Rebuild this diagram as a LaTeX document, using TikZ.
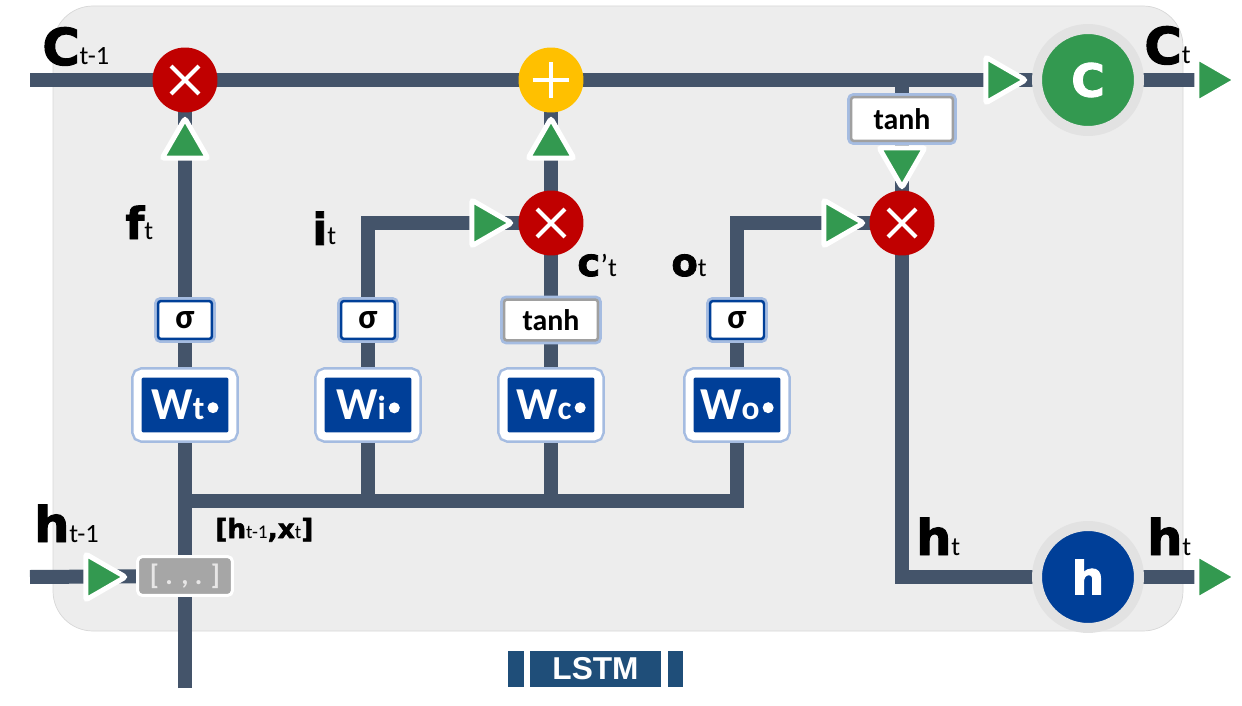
\documentclass[tikz,border=0pt]{standalone}
\usepackage{fontspec}
\setmainfont{Carlito}
\newfontfamily\heavyfont{DejaVu Sans}[BoldFeatures={FakeBold=2}]
\newfontfamily\arialfont{Liberation Sans}
\usetikzlibrary{shapes.geometric,backgrounds}

\definecolor{wiregray}{RGB}{68,84,106}
\definecolor{mulred}{RGB}{192,0,0}
\definecolor{addyellow}{RGB}{255,192,0}
\definecolor{cellgreen}{RGB}{51,153,80}
\definecolor{hidblue}{RGB}{0,63,152}
\definecolor{panelgray}{RGB}{237,237,237}
\definecolor{panelline}{RGB}{215,215,215}
\definecolor{halogray}{RGB}{226,226,226}
\definecolor{glowblue}{RGB}{165,188,225}
\definecolor{tanhgray}{RGB}{160,160,160}
\definecolor{catgray}{RGB}{166,166,166}
\definecolor{cattext}{RGB}{231,230,230}
\definecolor{lstmblue}{RGB}{31,78,121}

\newcommand{\biglbl}[3]{{\heavyfont\bfseries\fontsize{#1}{#1}\selectfont #2}{\fontsize{15}{15}\selectfont #3}}

\tikzset{
  wire/.style={draw=wiregray, line width=0.28cm},
  panel/.style={fill=panelgray, draw=panelline, line width=0.4pt, rounded corners=0.8cm},
  mulgate/.style={circle, fill=mulred, minimum size=1.3cm, inner sep=0,
    path picture={\draw[white, line width=0.08cm]
      ([shift={(-0.28cm,-0.28cm)}]path picture bounding box.center) -- ([shift={(0.28cm,0.28cm)}]path picture bounding box.center)
      ([shift={(-0.28cm,0.28cm)}]path picture bounding box.center) -- ([shift={(0.28cm,-0.28cm)}]path picture bounding box.center);}},
  addgate/.style={circle, fill=addyellow, minimum size=1.3cm, inner sep=0,
    path picture={\draw[white, line width=0.08cm]
      ([xshift=-0.37cm]path picture bounding box.center) -- ([xshift=0.37cm]path picture bounding box.center)
      ([yshift=-0.37cm]path picture bounding box.center) -- ([yshift=0.37cm]path picture bounding box.center);}},
  flowtri/.style={regular polygon, regular polygon sides=3, fill=cellgreen, draw=white, line width=0.1cm,
    rounded corners=0.05cm, minimum size=1.06cm, inner sep=0},
  statecirc/.style={circle, draw=halogray, line width=0.2cm, minimum size=2.04cm, inner sep=0, text=white,
    font=\heavyfont\bfseries\fontsize{26}{26}\selectfont},
  sigbox/.style={fill=white, draw=hidblue, line width=0.05cm, rounded corners=0.06cm, inner sep=0,
    minimum width=1.08cm, minimum height=0.76cm, font=\bfseries\fontsize{20}{20}\selectfont,
    preaction={draw=glowblue, line width=0.16cm}},
  tanhbox/.style={fill=white, draw=tanhgray, line width=0.05cm, rounded corners=0.06cm, inner sep=0,
    minimum width=1.88cm, minimum height=0.82cm, font=\bfseries\fontsize{17}{17}\selectfont,
    preaction={draw=glowblue, line width=0.16cm}},
  wbox/.style={fill=hidblue, draw=white, line width=0.16cm, rounded corners=0.1cm, inner sep=0,
    minimum width=1.9cm, minimum height=1.26cm, text=white, font=\bfseries\fontsize{26}{26}\selectfont,
    preaction={draw=glowblue, line width=0.26cm}},
  catbox/.style={fill=catgray, draw=white, line width=0.06cm, rounded corners=0.1cm, inner sep=0,
    minimum width=1.9cm, minimum height=0.78cm, text=cattext, font=\bfseries\fontsize{16}{16}\selectfont},
  lbl/.style={anchor=base west, inner sep=0}
}

\newcommand{\wlbl}[1]{W{\fontsize{19}{19}\selectfont #1}\hspace{0.06cm}\raisebox{0.13cm}{\tikz\fill[white] (0,0) circle (0.11cm);}}

\begin{document}
\begin{tikzpicture}[x=0.02cm, y=-0.02cm]
\useasboundingbox (0,0) rectangle (1242,706);

\node[mulgate] (fmul) at (185,80) {};
\node[addgate] (cadd) at (551,80) {};
\node[flowtri, shape border rotate=-90] (arrc) at (999,80) {};
\node[statecirc, fill=cellgreen] (cnode) at (1088,80) {C};
\node[flowtri, shape border rotate=-90] (arrcout) at (1210,80) {};

\node[tanhbox, minimum width=2.04cm, minimum height=0.88cm] (otanh) at (902,119) {tanh};
\node[flowtri, shape border rotate=180] (arrotanh) at (902,161) {};
\node[mulgate] (omul) at (902,223) {};
\node[flowtri, shape border rotate=-90] (arro) at (837,223) {};

\node[flowtri] (arrf) at (185,145) {};
\node[sigbox] (fsig) at (185,320) {σ};
\node[wbox] (fw) at (185,405) {\wlbl{t}};

\node[flowtri, shape border rotate=-90] (arri) at (485,223) {};
\node[mulgate] (imul) at (551,223) {};
\node[flowtri] (arrcadd) at (551,145) {};
\node[sigbox] (isig) at (368,320) {σ};
\node[wbox] (iw) at (368,405) {\wlbl{i}};

\node[tanhbox] (ctanh) at (551,320) {tanh};
\node[wbox] (cw) at (551,405) {\wlbl{c}};

\node[sigbox] (osig) at (737,320) {σ};
\node[wbox] (ow) at (737,405) {\wlbl{o}};

\node[statecirc, fill=hidblue] (hnode) at (1088,577) {h};
\node[flowtri, shape border rotate=-90] (arrhout) at (1210,577) {};

\node[flowtri, shape border rotate=-90] (arrhin) at (99,577) {};
\node[catbox] (cat) at (185,576) {[ . , . ]};

\coordinate (cin) at (30,80);
\coordinate (hin) at (30,577);
\coordinate (xin) at (185,688);
\coordinate (bus) at (185,501);

\begin{scope}[on background layer]
\draw[panel] (53,6) rectangle (1183,631);
\draw[wire] (cin) -- (cnode.center) -- (arrcout.center);
\draw[wire] (xin) -- (fmul.center);
\draw[wire] (hin) -- (cat.center);
\draw[wire] (bus) -| (ow.center) -- (osig.center) |- (omul.center);
\draw[wire] (iw |- bus) -- (isig.center) |- (imul.center);
\draw[wire] (cw |- bus) -- (cadd.center);
\draw[wire] (otanh |- cin) -- (omul.center) |- (hnode.center) -- (arrhout.center);
\end{scope}

\node[lbl] (lblcin) at (42,65) {\biglbl{29}{C}{t-1}};
\node[lbl] (lblcout) at (1144,64) {\biglbl{29}{C}{t}};
\node[lbl] (lblf) at (125,239) {\biglbl{25}{f}{t}};
\node[lbl] (lbli) at (312,245) {\biglbl{25}{i}{t}};
\node[lbl] (lblcp) at (577,276) {\biglbl{22}{c}{{\fontsize{18}{18}\selectfont ’}t}};
\node[lbl] (lblo) at (671,276) {\biglbl{22}{o}{t}};
\node[lbl] (lblht) at (916,555) {\biglbl{28}{h}{t}};
\node[lbl] (lblhout) at (1147,555) {\biglbl{28}{h}{t}};
\node[lbl] (lblhin) at (34,542) {\biglbl{28}{h}{t-1}};
\node[lbl] (lblcat) at (215,538) {{\heavyfont\bfseries\fontsize{15}{15}\selectfont [h}{\fontsize{11}{11}\selectfont t-1}{\heavyfont\bfseries\fontsize{15}{15}\selectfont ,x}{\fontsize{11}{11}\selectfont t}{\heavyfont\bfseries\fontsize{15}{15}\selectfont ]}};

\fill[lstmblue] (508,651) rectangle (524,687);
\node[fill=lstmblue, text=white, minimum width=2.62cm, minimum height=0.72cm, inner sep=0,
  font=\arialfont\bfseries\fontsize{18}{18}\selectfont] (lstm) at (595.5,669) {LSTM};
\fill[lstmblue] (668,651) rectangle (683,687);
\end{tikzpicture}
\end{document}
